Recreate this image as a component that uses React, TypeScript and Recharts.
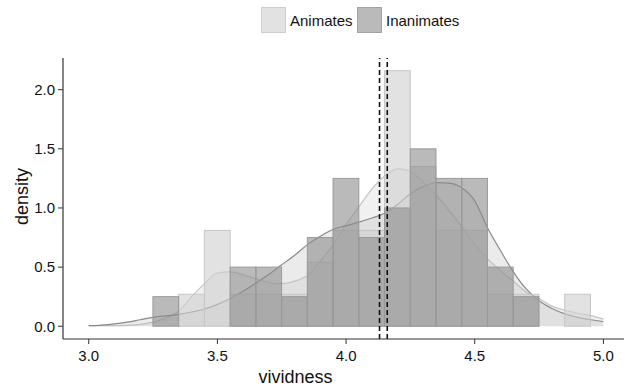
import React from 'react';
import { ComposedChart, Bar, Area, XAxis, YAxis, ReferenceLine, Legend } from 'recharts';

// density curves, sampled every 0.05 on the vividness scale
const densX = [
  3.0, 3.05, 3.1, 3.15, 3.2, 3.25, 3.3, 3.35, 3.4, 3.45, 3.5, 3.55, 3.6, 3.65,
  3.7, 3.75, 3.8, 3.85, 3.9, 3.95, 4.0, 4.05, 4.1, 4.15, 4.2, 4.25, 4.3, 4.35,
  4.4, 4.45, 4.5, 4.55, 4.6, 4.65, 4.7, 4.75, 4.8, 4.85, 4.9, 4.95, 5.0,
];
const animatesDensity = [
  0.005, 0.005, 0.005, 0.008, 0.015, 0.035, 0.07, 0.13, 0.25, 0.36, 0.45, 0.46, 0.435, 0.4,
  0.37, 0.36, 0.38, 0.43, 0.55, 0.69, 0.86, 1.01, 1.16, 1.27, 1.33, 1.31, 1.22, 1.11,
  0.98, 0.84, 0.69, 0.57, 0.47, 0.38, 0.29, 0.235, 0.17, 0.135, 0.11, 0.09, 0.06,
];
const inanimatesDensity = [
  0.005, 0.01, 0.02, 0.035, 0.055, 0.075, 0.088, 0.1, 0.12, 0.146, 0.185, 0.235, 0.295, 0.365,
  0.44, 0.52, 0.6, 0.69, 0.76, 0.82, 0.85, 0.88, 0.915, 0.955, 1.03, 1.12, 1.18, 1.215,
  1.21, 1.17, 1.06, 0.83, 0.64, 0.46, 0.315, 0.215, 0.15, 0.105, 0.075, 0.055, 0.04,
];

// histogram bins (width 0.1)
const binCenters = [3.3, 3.4, 3.5, 3.6, 3.7, 3.8, 3.9, 4.0, 4.1, 4.2, 4.3, 4.4, 4.5, 4.6, 4.7, 4.8, 4.9];
const animatesHist = [0, 0.27, 0.81, 0.27, 0.27, 0.27, 0.54, 0.81, 0.81, 2.16, 1.35, 0.81, 0.81, 0.27, 0.27, 0, 0.27];
const inanimatesHist = [0.25, 0, 0, 0.5, 0.5, 0.25, 0.75, 1.25, 0.75, 1.0, 1.5, 1.25, 1.25, 0.5, 0.25, 0, 0];

const groupMeans = [4.13, 4.16];
const seriesNames = ['Animates', 'Inanimates'];
const xTicks = [3, 3.5, 4, 4.5, 5];
const yTicks = [0, 0.5, 1, 1.5, 2];

const data = densX.map((x, i) => {
  const b = binCenters.indexOf(x);
  return {
    x,
    animD: animatesDensity[i],
    inanD: inanimatesDensity[i],
    animH: b >= 0 ? animatesHist[b] : null,
    inanH: b >= 0 ? inanimatesHist[b] : null,
  };
});

const W = 626;
const H = 388;
const FONT = '"Liberation Sans", Arial, sans-serif';
const xDomain = [2.9, 5.08];
const yDomain = [-0.108, 2.268];
const plotW = W - 63 - 2;
const BIN_PX = (0.1 * plotW) / (xDomain[1] - xDomain[0]);

const HistBar = (props: any) => {
  const { x, y, width, height, fill, stroke, fillOpacity } = props;
  if (!height || height <= 0.5) return null;
  const cx = x + width / 2;
  return (
    <rect
      x={cx - BIN_PX / 2}
      y={y}
      width={BIN_PX}
      height={height}
      fill={fill}
      fillOpacity={fillOpacity}
      stroke={stroke}
      strokeWidth={1}
    />
  );
};

const renderLegend = () => (
  <div style={{ position: 'relative', height: 0, fontFamily: FONT }}>
    {[
      { left: 261, fill: '#e2e2e2', border: '#cdcdcd', name: seriesNames[0] },
      { left: 357, fill: '#bababa', border: '#a3a3a3', name: seriesNames[1] },
    ].map((it) => (
      <div
        key={it.name}
        style={{ position: 'absolute', left: it.left, top: 7, display: 'flex', alignItems: 'center', whiteSpace: 'nowrap' }}
      >
        <span
          style={{
            display: 'inline-block',
            width: 23,
            height: 24,
            background: it.fill,
            border: `1px solid ${it.border}`,
            marginRight: 4,
          }}
        />
        <span style={{ fontSize: 15, color: '#111' }}>{it.name}</span>
      </div>
    ))}
  </div>
);

const YTitle = (props: any) => {
  const { viewBox } = props;
  const x = viewBox.x + 28;
  const y = viewBox.y + viewBox.height / 2 - 2;
  return (
    <text x={x} y={y} transform={`rotate(-90, ${x}, ${y})`} textAnchor="middle" fontSize={18} fill="#111" fontFamily={FONT}>
      density
    </text>
  );
};

const XTitle = (props: any) => {
  const { viewBox } = props;
  return (
    <text x={viewBox.x + viewBox.width / 2 - 48} y={viewBox.y + 44} textAnchor="middle" fontSize={18} fill="#111" fontFamily={FONT}>
      vividness
    </text>
  );
};

const App: React.FC = () => {
  return (
    <div style={{ position: 'absolute', left: 0, top: 0, width: W, height: H, background: '#fff', fontFamily: FONT }}>
      <ComposedChart width={W} height={H} data={data} margin={{ top: 58, right: 2, left: 0, bottom: 0 }}>
        <XAxis
          xAxisId="a"
          type="number"
          dataKey="x"
          domain={xDomain}
          allowDataOverflow
          ticks={xTicks}
          tickFormatter={(v: number) => v.toFixed(1)}
          height={49}
          tickSize={5}
          tickMargin={6}
          axisLine={{ stroke: '#333', strokeWidth: 1.2 }}
          tickLine={{ stroke: '#333' }}
          tick={{ fontSize: 15, fill: '#111', fontFamily: FONT }}
          label={<XTitle />}
        />
        <XAxis xAxisId="b" type="number" dataKey="x" domain={xDomain} allowDataOverflow hide />
        <YAxis
          type="number"
          domain={yDomain}
          allowDataOverflow
          ticks={yTicks}
          tickFormatter={(v: number) => v.toFixed(1)}
          width={63}
          tickSize={5}
          tickMargin={3}
          axisLine={{ stroke: '#333', strokeWidth: 1.2 }}
          tickLine={{ stroke: '#333' }}
          tick={{ fontSize: 15, fill: '#111', fontFamily: FONT }}
          label={<YTitle />}
        />
        <Legend verticalAlign="top" content={renderLegend} wrapperStyle={{ top: 0, left: 0, height: 0 }} />
        <Bar
          xAxisId="a"
          dataKey="animH"
          name={seriesNames[0]}
          fill="#cfcfcf"
          fillOpacity={0.6}
          stroke="#c6c6c6"
          shape={HistBar}
          isAnimationActive={false}
          legendType="none"
        />
        <Bar
          xAxisId="b"
          dataKey="inanH"
          name={seriesNames[1]}
          fill="#8c8c8c"
          fillOpacity={0.6}
          stroke="#9a9a9a"
          shape={HistBar}
          isAnimationActive={false}
          legendType="none"
        />
        <Area
          xAxisId="a"
          type="monotone"
          dataKey="animD"
          stroke="#c4c4c4"
          strokeWidth={1.2}
          fill="#d0d0d0"
          fillOpacity={0.3}
          dot={false}
          activeDot={false}
          isAnimationActive={false}
          legendType="none"
        />
        <Area
          xAxisId="a"
          type="monotone"
          dataKey="inanD"
          stroke="#8a8a8a"
          strokeWidth={1.2}
          fill="#b0b0b0"
          fillOpacity={0.25}
          dot={false}
          activeDot={false}
          isAnimationActive={false}
          legendType="none"
        />
        {groupMeans.map((m) => (
          <ReferenceLine key={m} xAxisId="a" x={m} stroke="#111" strokeWidth={1.6} strokeDasharray="5 3" />
        ))}
      </ComposedChart>
    </div>
  );
};

export default App;
